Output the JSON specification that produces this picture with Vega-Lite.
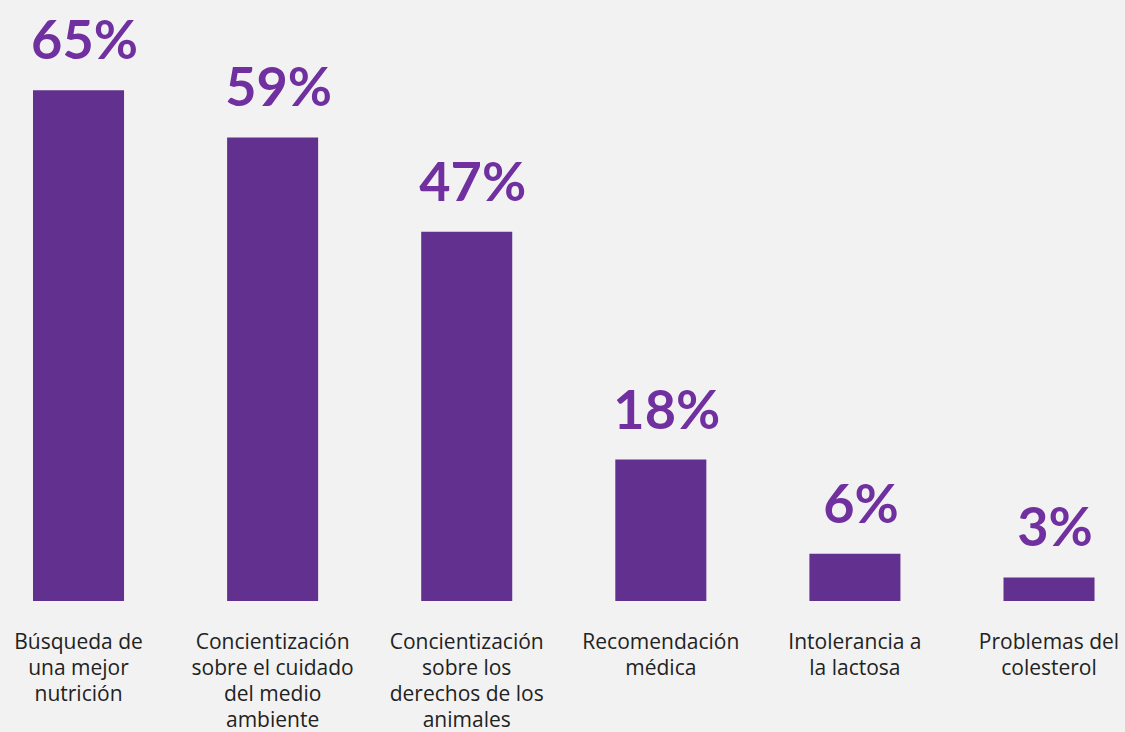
{
  "$schema": "https://vega.github.io/schema/vega-lite/v6.json",
  "autosize": {"type": "none"},
  "padding": {"left": 0, "top": 0, "right": 0, "bottom": 131},
  "width": 1125,
  "height": 601,
  "background": "#f2f2f2",
  "config": {"view": {"stroke": null}},
  "data": {
    "values": [
      {"cat": "Búsqueda de\nuna mejor\nnutrición", "pct": 65, "txt": "65%"},
      {"cat": "Concientización\nsobre el cuidado\ndel medio\nambiente", "pct": 59, "txt": "59%"},
      {"cat": "Concientización\nsobre los\nderechos de los\nanimales", "pct": 47, "txt": "47%"},
      {"cat": "Recomendación\nmédica", "pct": 18, "txt": "18%"},
      {"cat": "Intolerancia a\nla lactosa", "pct": 6, "txt": "6%"},
      {"cat": "Problemas del\ncolesterol", "pct": 3, "txt": "3%"}
    ]
  },
  "encoding": {
    "x": {
      "field": "cat", "type": "nominal", "sort": null,
      "scale": {"paddingInner": 0.531, "paddingOuter": 0.1635, "align": 0.52},
      "axis": {
        "title": null, "domain": false, "ticks": false, "labelAngle": 0,
        "labelExpr": "split(datum.label, '\\n')",
        "labelLineHeight": 26, "labelFontSize": 21, "labelFont": "Open Sans",
        "labelColor": "#222222", "labelPadding": 30, "labelBaseline": "top",
        "labelLimit": 0
      }
    },
    "y": {
      "field": "pct", "type": "quantitative",
      "scale": {"domain": [0, 76.5], "nice": false},
      "axis": null
    }
  },
  "layer": [
    {"mark": {"type": "bar", "color": "#62318f"}},
    {
      "mark": {"type": "text", "baseline": "alphabetic", "dy": -31, "dx": 6, "font": "Lato", "fontWeight": "bold", "fontSize": 54, "color": "#7030a0"},
      "encoding": {"text": {"field": "txt"}}
    }
  ]
}
